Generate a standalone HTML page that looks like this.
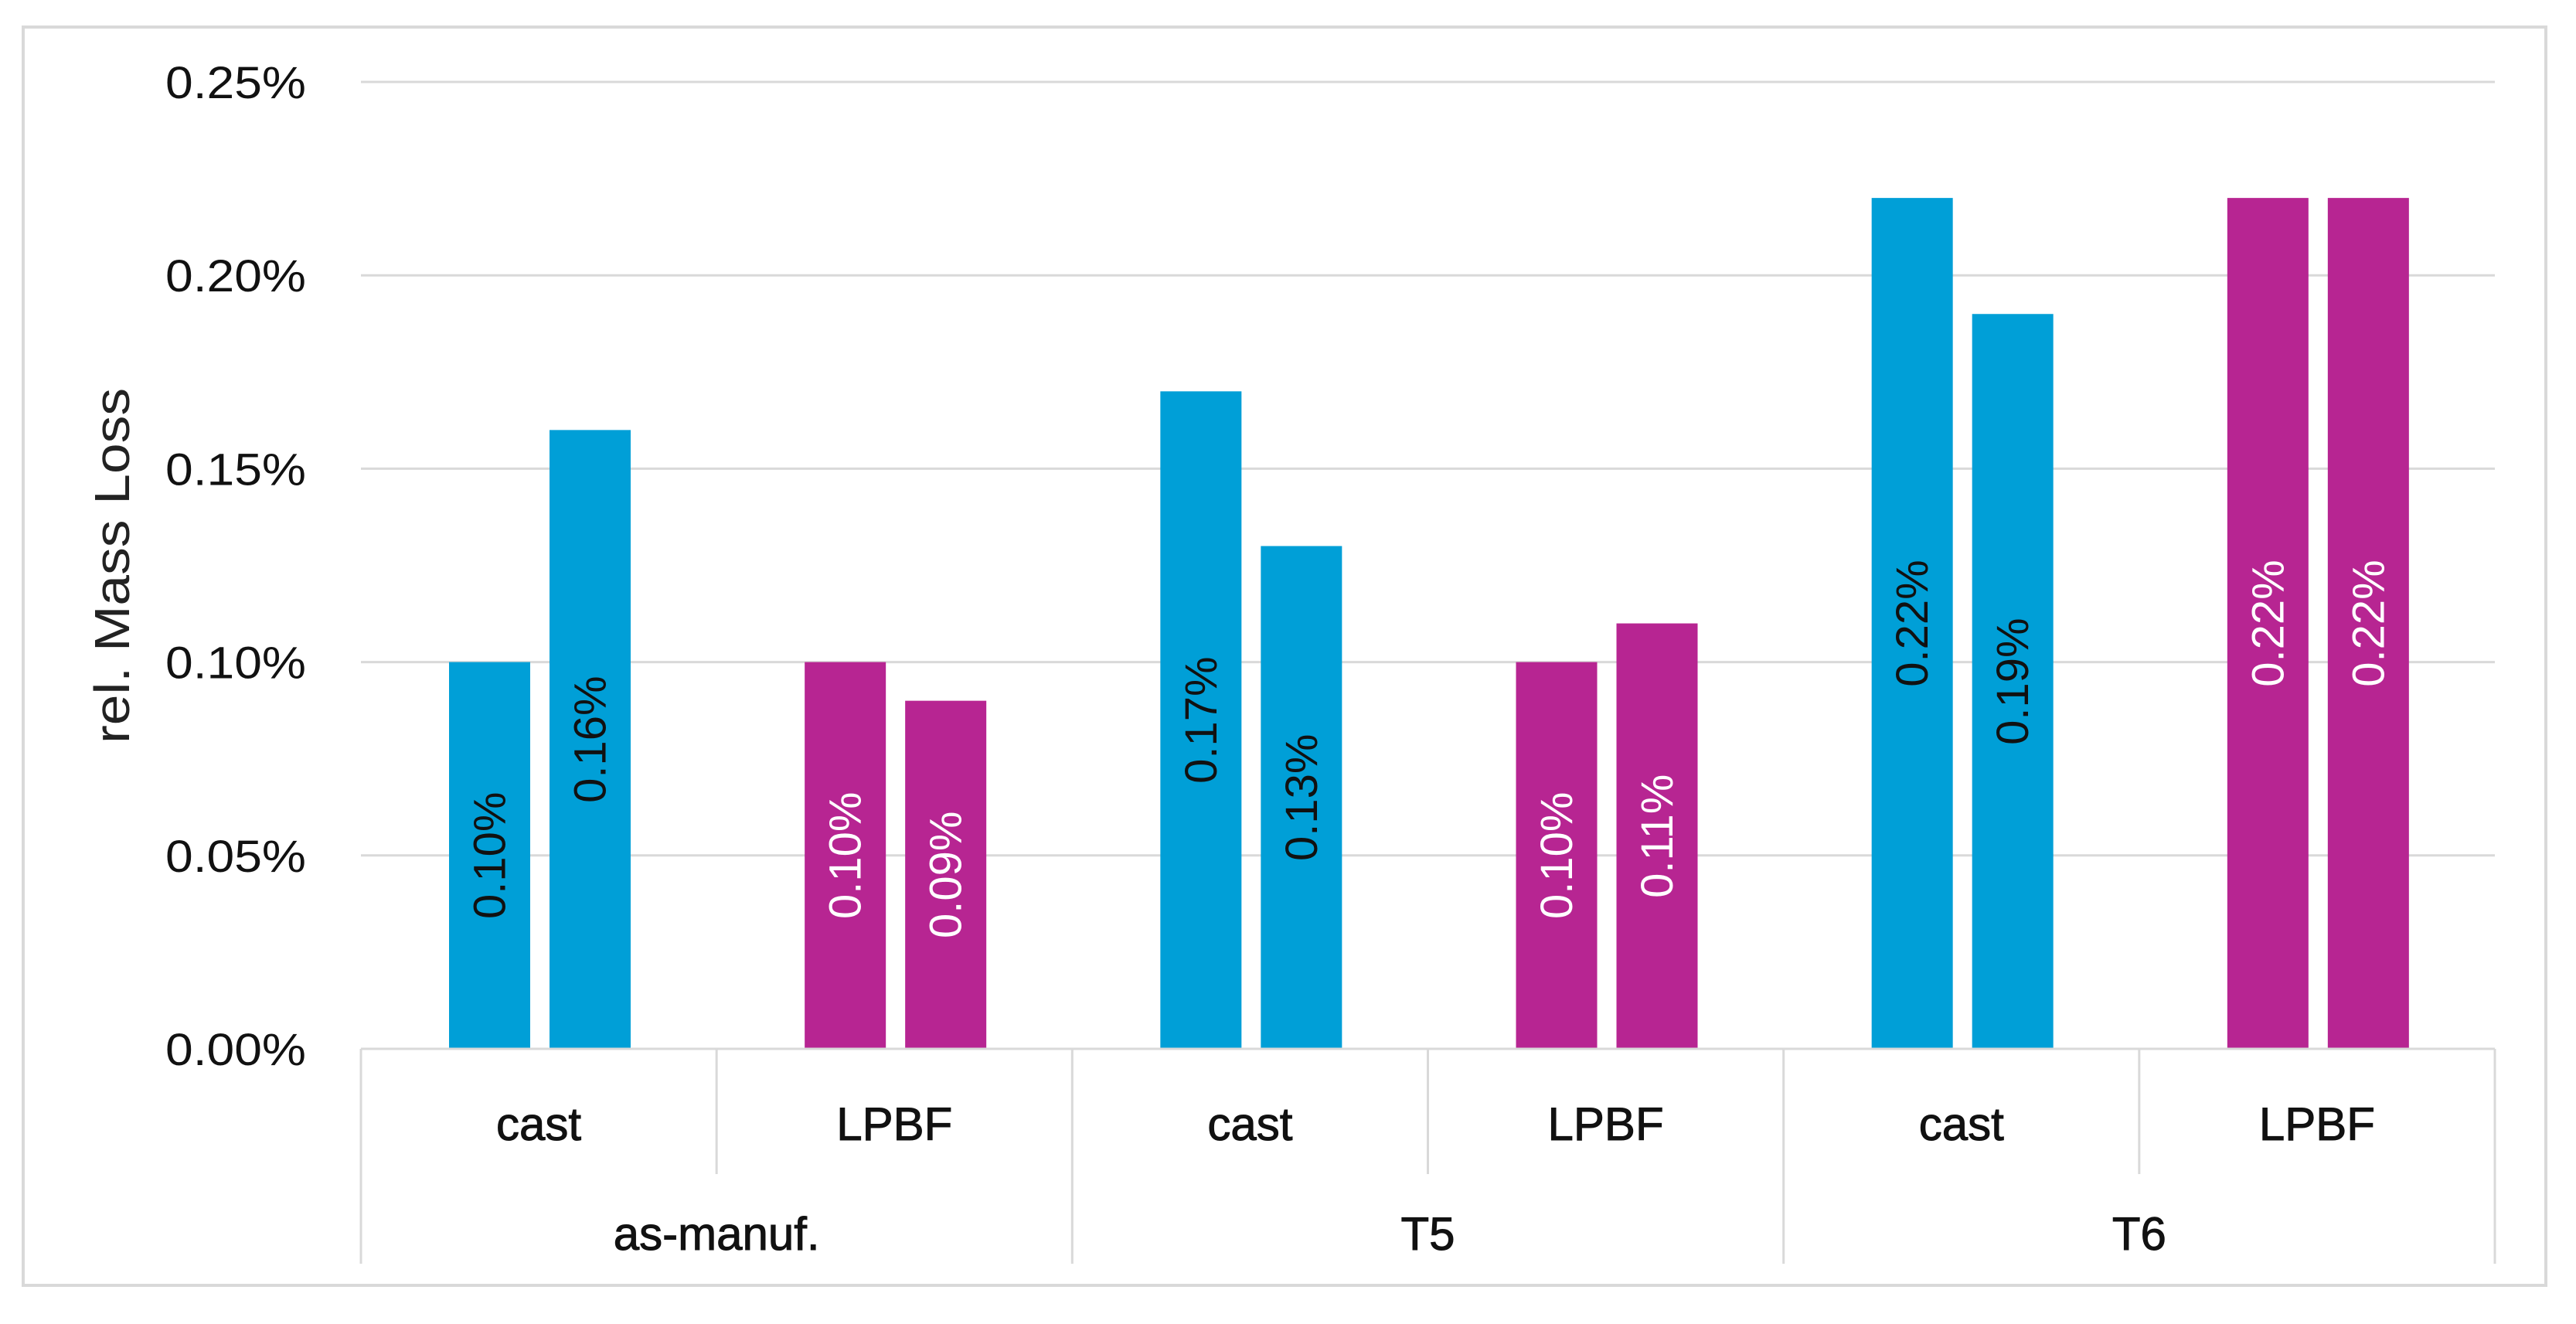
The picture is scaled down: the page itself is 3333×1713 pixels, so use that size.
<!DOCTYPE html>
<html><head><meta charset="utf-8">
<style>
html,body{margin:0;padding:0;background:#fff;}
svg{display:block;font-family:"Liberation Sans",sans-serif;}
</style></head>
<body>
<svg id="chart" width="3333" height="1713" viewBox="0 0 3333 1713" xmlns="http://www.w3.org/2000/svg">
<rect x="30" y="35" width="3264" height="1628" fill="#fff" stroke="#d9d9d9" stroke-width="4"/>
<g id="grid"></g>
<g id="bars"></g>
<g id="axis"></g>
<text transform="translate(167,732) rotate(-90)" text-anchor="middle" font-size="64" fill="#222" textLength="460" lengthAdjust="spacingAndGlyphs">rel. Mass Loss</text>
</svg>
<script>
const groups = ["as-manuf.", "T5", "T6"];
const subcats = ["cast", "LPBF", "cast", "LPBF", "cast", "LPBF"];
const valuesA = [0.10, 0.10, 0.17, 0.10, 0.22, 0.22];
const valuesB = [0.16, 0.09, 0.13, 0.11, 0.19, 0.22];
const barColors = ["#009fd7", "#b72592", "#009fd7", "#b72592", "#009fd7", "#b72592"];
const labelColors = ["#111", "#fff", "#111", "#fff", "#111", "#fff"];
const yTicks = [0, 0.05, 0.10, 0.15, 0.20, 0.25];

const NS = "http://www.w3.org/2000/svg";
const plotL = 467, plotR = 3228, y0 = 1357, yTop = 106, yMax = 0.25;
const catW = (plotR - plotL) / subcats.length;
function y(v){ return y0 - (v / yMax) * (y0 - yTop); }
function catX(i){ return plotL + i * catW; }
function mk(tag, attrs, parent){ const e = document.createElementNS(NS, tag); for (const k in attrs) e.setAttribute(k, attrs[k]); parent.appendChild(e); return e; }

const grid = document.getElementById("grid");
const axis = document.getElementById("axis");
const bars = document.getElementById("bars");

yTicks.forEach(t => {
  const l = mk("line", {x1: plotL, x2: plotR, y1: y(t), y2: y(t), stroke: "#d9d9d9", "stroke-width": 3}, grid);
  
  
  const tx = mk("text", {x: 396, y: y(t) + 21, "text-anchor": "end", "font-size": 58, fill: "#111", textLength: 182, lengthAdjust: "spacingAndGlyphs"}, axis);
  
  
  tx.textContent = (t * 1).toFixed(2) + "%";
});

const bw = 105;
subcats.forEach((s, i) => {
  const cx = catX(i);
  [[valuesA[i], cx + 114], [valuesB[i], cx + 244]].forEach(([v, bx]) => {
    const r = mk("rect", {x: bx, y: y(v), width: bw, height: y0 - y(v), fill: barColors[i]}, bars);
    
    
    const my = (y(v) + y0) / 2, mx = bx + bw / 2;
    const t = mk("text", {transform: "translate(" + (mx + 20) + "," + my + ") rotate(-90)", "text-anchor": "middle", "font-size": 58, fill: labelColors[i]}, bars);
    
    
    t.textContent = v.toFixed(2) + "%";
  });
  const lab = mk("text", {x: cx + catW / 2, y: 1475, "text-anchor": "middle", "font-size": 60, fill: "#111", "stroke": "#111", "stroke-width": 1}, axis);
  
  
  lab.textContent = s;
});

const base = mk("line", {x1: plotL, x2: plotR, y1: y0, y2: y0, stroke: "#d9d9d9", "stroke-width": 3}, axis);


for (let i = 0; i <= subcats.length; i++) {
  const major = (i % 2 === 0);
  const ln = mk("line", {x1: catX(i), x2: catX(i), y1: y0, y2: major ? 1635 : 1519, stroke: "#d9d9d9", "stroke-width": 3}, axis);
  
  
}
groups.forEach((g, j) => {
  const gt = mk("text", {x: catX(j * 2) + catW, y: 1617, "text-anchor": "middle", "font-size": 60, fill: "#111", "stroke": "#111", "stroke-width": 1}, axis);
  
  
  gt.textContent = g;
});
</script>
</body></html>
